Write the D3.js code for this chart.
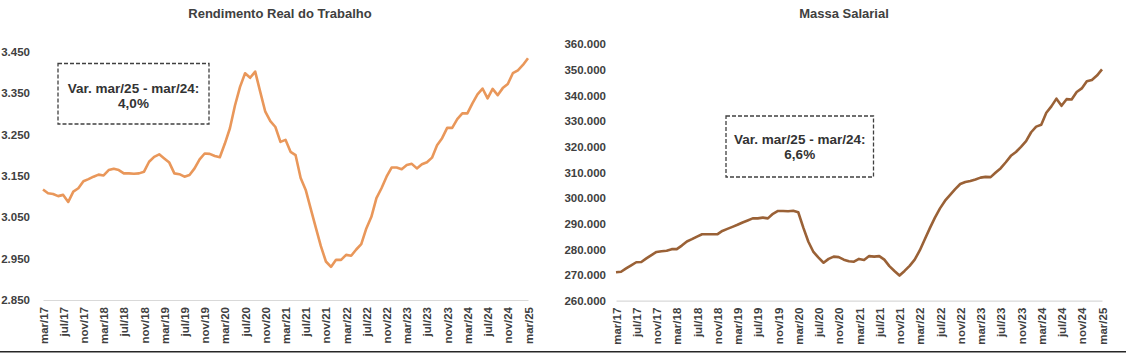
<!DOCTYPE html>
<html>
<head>
<meta charset="utf-8">
<script src="https://cdn.jsdelivr.net/npm/d3@7"></script>
<style>
  html, body { margin: 0; padding: 0; background: #fff; }
  svg { display: block; font-family: "Liberation Sans", Arial, sans-serif; }
</style>
</head>
<body>
<svg id="chart" width="1126" height="353"></svg>
<script>
const categories = [
  "mar/17","abr/17","mai/17","jun/17","jul/17","ago/17","set/17","out/17","nov/17","dez/17",
  "jan/18","fev/18","mar/18","abr/18","mai/18","jun/18","jul/18","ago/18","set/18","out/18","nov/18","dez/18",
  "jan/19","fev/19","mar/19","abr/19","mai/19","jun/19","jul/19","ago/19","set/19","out/19","nov/19","dez/19",
  "jan/20","fev/20","mar/20","abr/20","mai/20","jun/20","jul/20","ago/20","set/20","out/20","nov/20","dez/20",
  "jan/21","fev/21","mar/21","abr/21","mai/21","jun/21","jul/21","ago/21","set/21","out/21","nov/21","dez/21",
  "jan/22","fev/22","mar/22","abr/22","mai/22","jun/22","jul/22","ago/22","set/22","out/22","nov/22","dez/22",
  "jan/23","fev/23","mar/23","abr/23","mai/23","jun/23","jul/23","ago/23","set/23","out/23","nov/23","dez/23",
  "jan/24","fev/24","mar/24","abr/24","mai/24","jun/24","jul/24","ago/24","set/24","out/24","nov/24","dez/24",
  "jan/25","fev/25","mar/25"
];

const xTickLabels = [
  "mar/17","jul/17","nov/17","mar/18","jul/18","nov/18","mar/19","jul/19","nov/19",
  "mar/20","jul/20","nov/20","mar/21","jul/21","nov/21","mar/22","jul/22","nov/22",
  "mar/23","jul/23","nov/23","mar/24","jul/24","nov/24","mar/25"
];

const rendimentoValues = [
  3117, 3108, 3106, 3101, 3104, 3087, 3112, 3120, 3137, 3142,
  3148, 3153, 3151, 3164, 3167, 3164, 3156, 3156, 3155, 3156,
  3160, 3184, 3196, 3202, 3192, 3182, 3156, 3154, 3148, 3152,
  3168, 3190, 3204, 3203, 3198, 3195, 3228, 3265, 3320, 3365,
  3398, 3387, 3402, 3353, 3305, 3282, 3268, 3232, 3237, 3208,
  3200, 3145, 3116, 3070, 3025, 2980, 2943, 2930, 2947, 2947,
  2959, 2957, 2972, 2985, 3023, 3051, 3096, 3120, 3148, 3170,
  3170, 3166, 3176, 3179, 3168, 3178, 3183, 3194, 3224, 3241,
  3266, 3266, 3287, 3301, 3301, 3325, 3347, 3361, 3337, 3360,
  3345, 3362, 3372, 3398, 3405, 3418, 3434
];

const massaValues = [
  271100, 271300, 272600, 273800, 275000, 275100, 276500, 277800, 279000, 279300,
  279500, 280100, 280100, 281500, 283100, 284000, 285000, 285900, 285900, 285900,
  285900, 287200, 288000, 288800, 289600, 290500, 291300, 292100, 292100, 292400,
  292100, 293900, 295000, 295000, 294900, 295100, 294500, 288500, 283000, 279000,
  276800, 274800, 276300, 277200, 277000, 276000, 275400, 275200, 276300, 275900,
  277400, 277200, 277400, 276000, 273500, 271600, 269800, 271600, 273600, 276000,
  279600, 284000, 288300, 292400, 296000, 299000, 301300, 303500, 305500, 306300,
  306700, 307300, 308000, 308300, 308200, 310000, 311700, 314000, 316500, 318000,
  320000, 322200, 325700, 327900, 328600, 333300, 335800, 338800, 336000, 338600,
  338500, 341400, 342800, 345600, 346100, 347800, 350200
];

const rendimentoTicks = [2850, 2950, 3050, 3150, 3250, 3350, 3450];
const massaTicks = [260000, 270000, 280000, 290000, 300000, 310000, 320000, 330000, 340000, 350000, 360000];

const titles = ["Rendimento Real do Trabalho", "Massa Salarial"];
const notes = [["Var. mar/25 - mar/24:", "4,0%"], ["Var. mar/25 - mar/24:", "6,6%"]];

const ptBR = d3.formatLocale({decimal: ",", thousands: ".", grouping: [3], currency: ["R$", ""]});
const fmt = ptBR.format(",");

const svg = d3.select("#chart");
svg.append("rect").attr("width", 1126).attr("height", 353).attr("fill", "#fff");

const textColor = "#404040";

function drawPanel(cfg) {
  const x = d3.scalePoint().domain(categories).range([cfg.x0, cfg.x1]);
  const y = d3.scaleLinear().domain(cfg.domain).range([cfg.yBottom, cfg.yTop]);
  const g = svg.append("g");

  // x axis
  const xAxis = d3.axisBottom(x).tickValues(xTickLabels).tickSize(0).tickSizeOuter(0);
  const gx = g.append("g").attr("transform", `translate(0,${cfg.yBottom})`).call(xAxis);
  gx.select(".domain").attr("stroke", "#d9d9d9").attr("stroke-width", 1.2);
  gx.selectAll("text")
    .attr("transform", "rotate(-90)")
    .attr("x", -7)
    .attr("y", 0)
    .attr("dy", "0.35em")
    .attr("text-anchor", "end")
    .attr("fill", textColor)
    .style("font-size", "11.5px")
    .style("font-weight", "bold")
    .style("font-family", "'Liberation Sans', Arial, sans-serif");

  // y axis
  const yAxis = d3.axisLeft(y).tickValues(cfg.ticks).tickSize(0).tickPadding(cfg.pad).tickFormat(fmt);
  const gy = g.append("g").attr("transform", `translate(${cfg.x0},0)`).call(yAxis);
  gy.select(".domain").remove();
  gy.selectAll("text")
    .attr("fill", textColor)
    .style("font-size", "11.5px")
    .style("font-weight", "bold")
    .style("font-family", "'Liberation Sans', Arial, sans-serif");

  // line
  const line = d3.line().x((d, i) => x(categories[i])).y(d => y(d));
  g.append("path").datum(cfg.values)
    .attr("fill", "none")
    .attr("stroke", cfg.color)
    .attr("stroke-width", 2.6)
    .attr("stroke-linejoin", "round")
    .attr("d", line);

  // title
  g.append("text")
    .attr("x", cfg.titleX).attr("y", 18)
    .attr("text-anchor", "middle")
    .attr("fill", textColor)
    .style("font-size", "13px").style("font-weight", "bold")
    .text(cfg.title);

  // annotation box
  const b = cfg.box;
  g.append("rect")
    .attr("x", b.x).attr("y", b.y).attr("width", b.w).attr("height", b.h)
    .attr("fill", "#fff")
    .attr("stroke", "#404040").attr("stroke-width", 1.3)
    .attr("stroke-dasharray", "4,2");
  cfg.note.forEach((t, k) => {
    g.append("text")
      .attr("x", b.x + b.w / 2)
      .attr("y", b.textY + k * 15.5)
      .attr("text-anchor", "middle")
      .attr("fill", "#333")
      .style("font-size", "13.5px").style("font-weight", "bold")
      .text(t);
  });
}

drawPanel({
  x0: 43, x1: 528, yBottom: 300, yTop: 51.7,
  domain: [2850, 3450], ticks: rendimentoTicks, pad: 13,
  values: rendimentoValues, color: "#E9975A",
  title: titles[0], titleX: 280,
  box: {x: 58, y: 63.5, w: 151, h: 60.5, textY: 92.5},
  note: notes[0]
});

drawPanel({
  x0: 616, x1: 1102, yBottom: 300.7, yTop: 44.3,
  domain: [260000, 360000], ticks: massaTicks, pad: 10,
  values: massaValues, color: "#9A6136",
  title: titles[1], titleX: 844,
  box: {x: 726, y: 116, w: 147.5, h: 61, textY: 143.5},
  note: notes[1]
});

// bottom frame line
svg.append("line")
  .attr("x1", 0).attr("x2", 1126).attr("y1", 351.8).attr("y2", 351.8)
  .attr("stroke", "#262626").attr("stroke-width", 1.5);
</script>
</body>
</html>
